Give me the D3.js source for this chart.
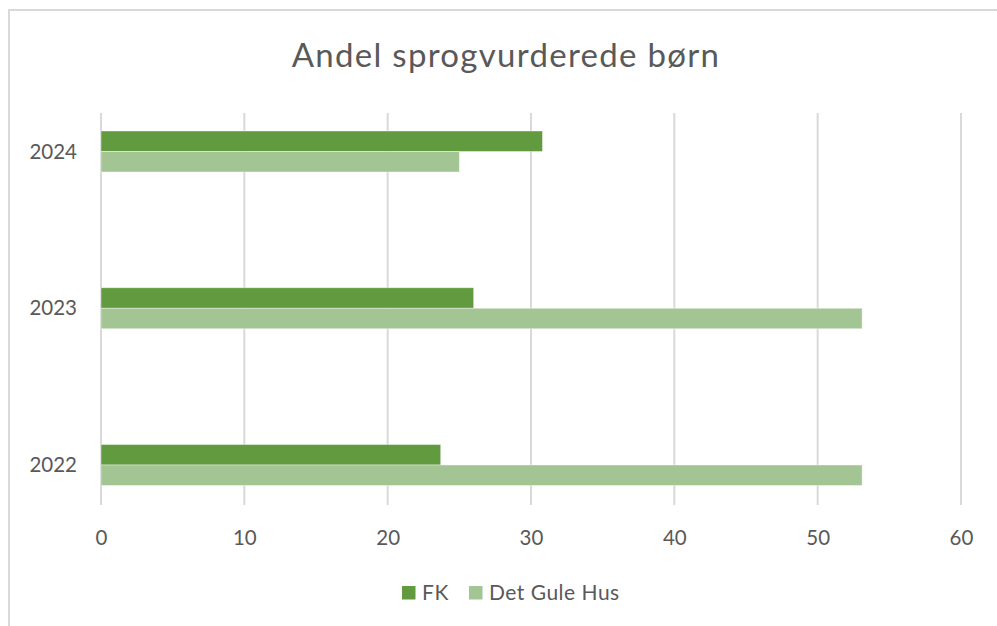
<!DOCTYPE html>
<html>
<head>
<meta charset="utf-8">
<script src="https://cdn.jsdelivr.net/npm/d3@7"></script>
<style>
  body { margin: 0; background: #fff; }
  text { font-family: Lato, "Open Sans", sans-serif; fill: #595959; }
</style>
</head>
<body>
<div id="chart"></div>
<script>
// Chart data
var title = "Andel sprogvurderede børn";
var years = ["2024", "2023", "2022"];          // top to bottom
var seriesNames = ["FK", "Det Gule Hus"];
var fkValues = [30.8, 26.0, 23.7];
var gulehusValues = [25.0, 53.1, 53.1];
var xTicks = [0, 10, 20, 30, 40, 50, 60];
var colors = ["#629b3f", "#a2c593"];

function drawBarChart() {
    var width = 997,
        height = 626;

    var svg = d3.select("#chart").append("svg")
        .attr("width", width)
        .attr("height", height);

    // Chart frame (cut off at right and bottom, like the screenshot)
    svg.append("rect")
        .attr("x", 9).attr("y", 10)
        .attr("width", 1010).attr("height", 640)
        .attr("fill", "#fff")
        .attr("stroke", "#d9d9d9")
        .attr("stroke-width", 2);

    var plotTop = 113, plotBottom = 505;

    var x = d3.scaleLinear()
        .domain([0, 60])
        .range([101, 961]);

    // Category centres
    var y = d3.scalePoint()
        .domain(years)
        .range([151.5, 465]);

    // Offset of each series inside a category
    var ySub = d3.scaleBand()
        .domain(seriesNames)
        .range([-20.5, 20.5]);

    // Gridlines
    svg.append("g")
        .selectAll("line")
        .data(xTicks)
        .enter().append("line")
        .attr("x1", function(d) { return x(d); })
        .attr("x2", function(d) { return x(d); })
        .attr("y1", plotTop)
        .attr("y2", plotBottom)
        .attr("stroke", "#d9d9d9")
        .attr("stroke-width", 2);

    // Bars
    var rows = years.map(function(yr, i) {
        return { year: yr, values: [fkValues[i], gulehusValues[i]] };
    });

    var groups = svg.append("g")
        .selectAll("g")
        .data(rows)
        .enter().append("g")
        .attr("transform", function(d) { return "translate(0," + y(d.year) + ")"; });

    groups.selectAll("rect")
        .data(function(d) {
            return d.values.map(function(v, j) { return { name: seriesNames[j], value: v, i: j }; });
        })
        .enter().append("rect")
        .attr("x", x(0))
        .attr("y", function(d) { return ySub(d.name); })
        .attr("width", function(d) { return x(d.value) - x(0); })
        .attr("height", ySub.bandwidth())
        .attr("fill", function(d) { return colors[d.i]; })
        .attr("stroke", "#ffffff")
        .attr("stroke-opacity", 0.5)
        .attr("stroke-width", 0.8);

    // X axis labels
    var xAxis = d3.axisBottom(x)
        .tickValues(xTicks)
        .tickSize(0)
        .tickPadding(0);

    var gx = svg.append("g")
        .attr("transform", "translate(0," + 538 + ")")
        .call(xAxis);
    gx.select(".domain").remove();
    gx.selectAll("text")
        .attr("dy", "0.35em")
        .style("font-size", "20.5px")
        .style("font-family", "Lato, 'Open Sans', sans-serif")
        .attr("fill", "#595959");

    // Y axis labels
    var yAxis = d3.axisLeft(y)
        .tickSize(0)
        .tickPadding(0);

    var gy = svg.append("g")
        .attr("transform", "translate(77,0)")
        .call(yAxis);
    gy.select(".domain").remove();
    gy.selectAll("text")
        .style("font-size", "20.5px")
        .style("font-family", "Lato, 'Open Sans', sans-serif")
        .attr("fill", "#595959");

    // Title
    svg.append("text")
        .attr("x", 506)
        .attr("y", 67)
        .attr("text-anchor", "middle")
        .style("font-size", "33px")
        .style("font-weight", 400)
        .style("letter-spacing", "1.3px")
        .text(title);

    // Legend
    var legendX = [402, 469];
    var legend = svg.append("g")
        .selectAll("g")
        .data(seriesNames)
        .enter().append("g")
        .attr("transform", function(d, i) { return "translate(" + legendX[i] + ",586)"; });

    legend.append("rect")
        .attr("width", 13.5)
        .attr("height", 13.5)
        .attr("fill", function(d, i) { return colors[i]; });

    legend.append("text")
        .attr("x", 20)
        .attr("y", 7)
        .attr("dy", "0.35em")
        .style("font-size", "21px")
        .style("letter-spacing", "0.5px")
        .text(function(d) { return d; });
}

drawBarChart();
</script>
</body>
</html>
